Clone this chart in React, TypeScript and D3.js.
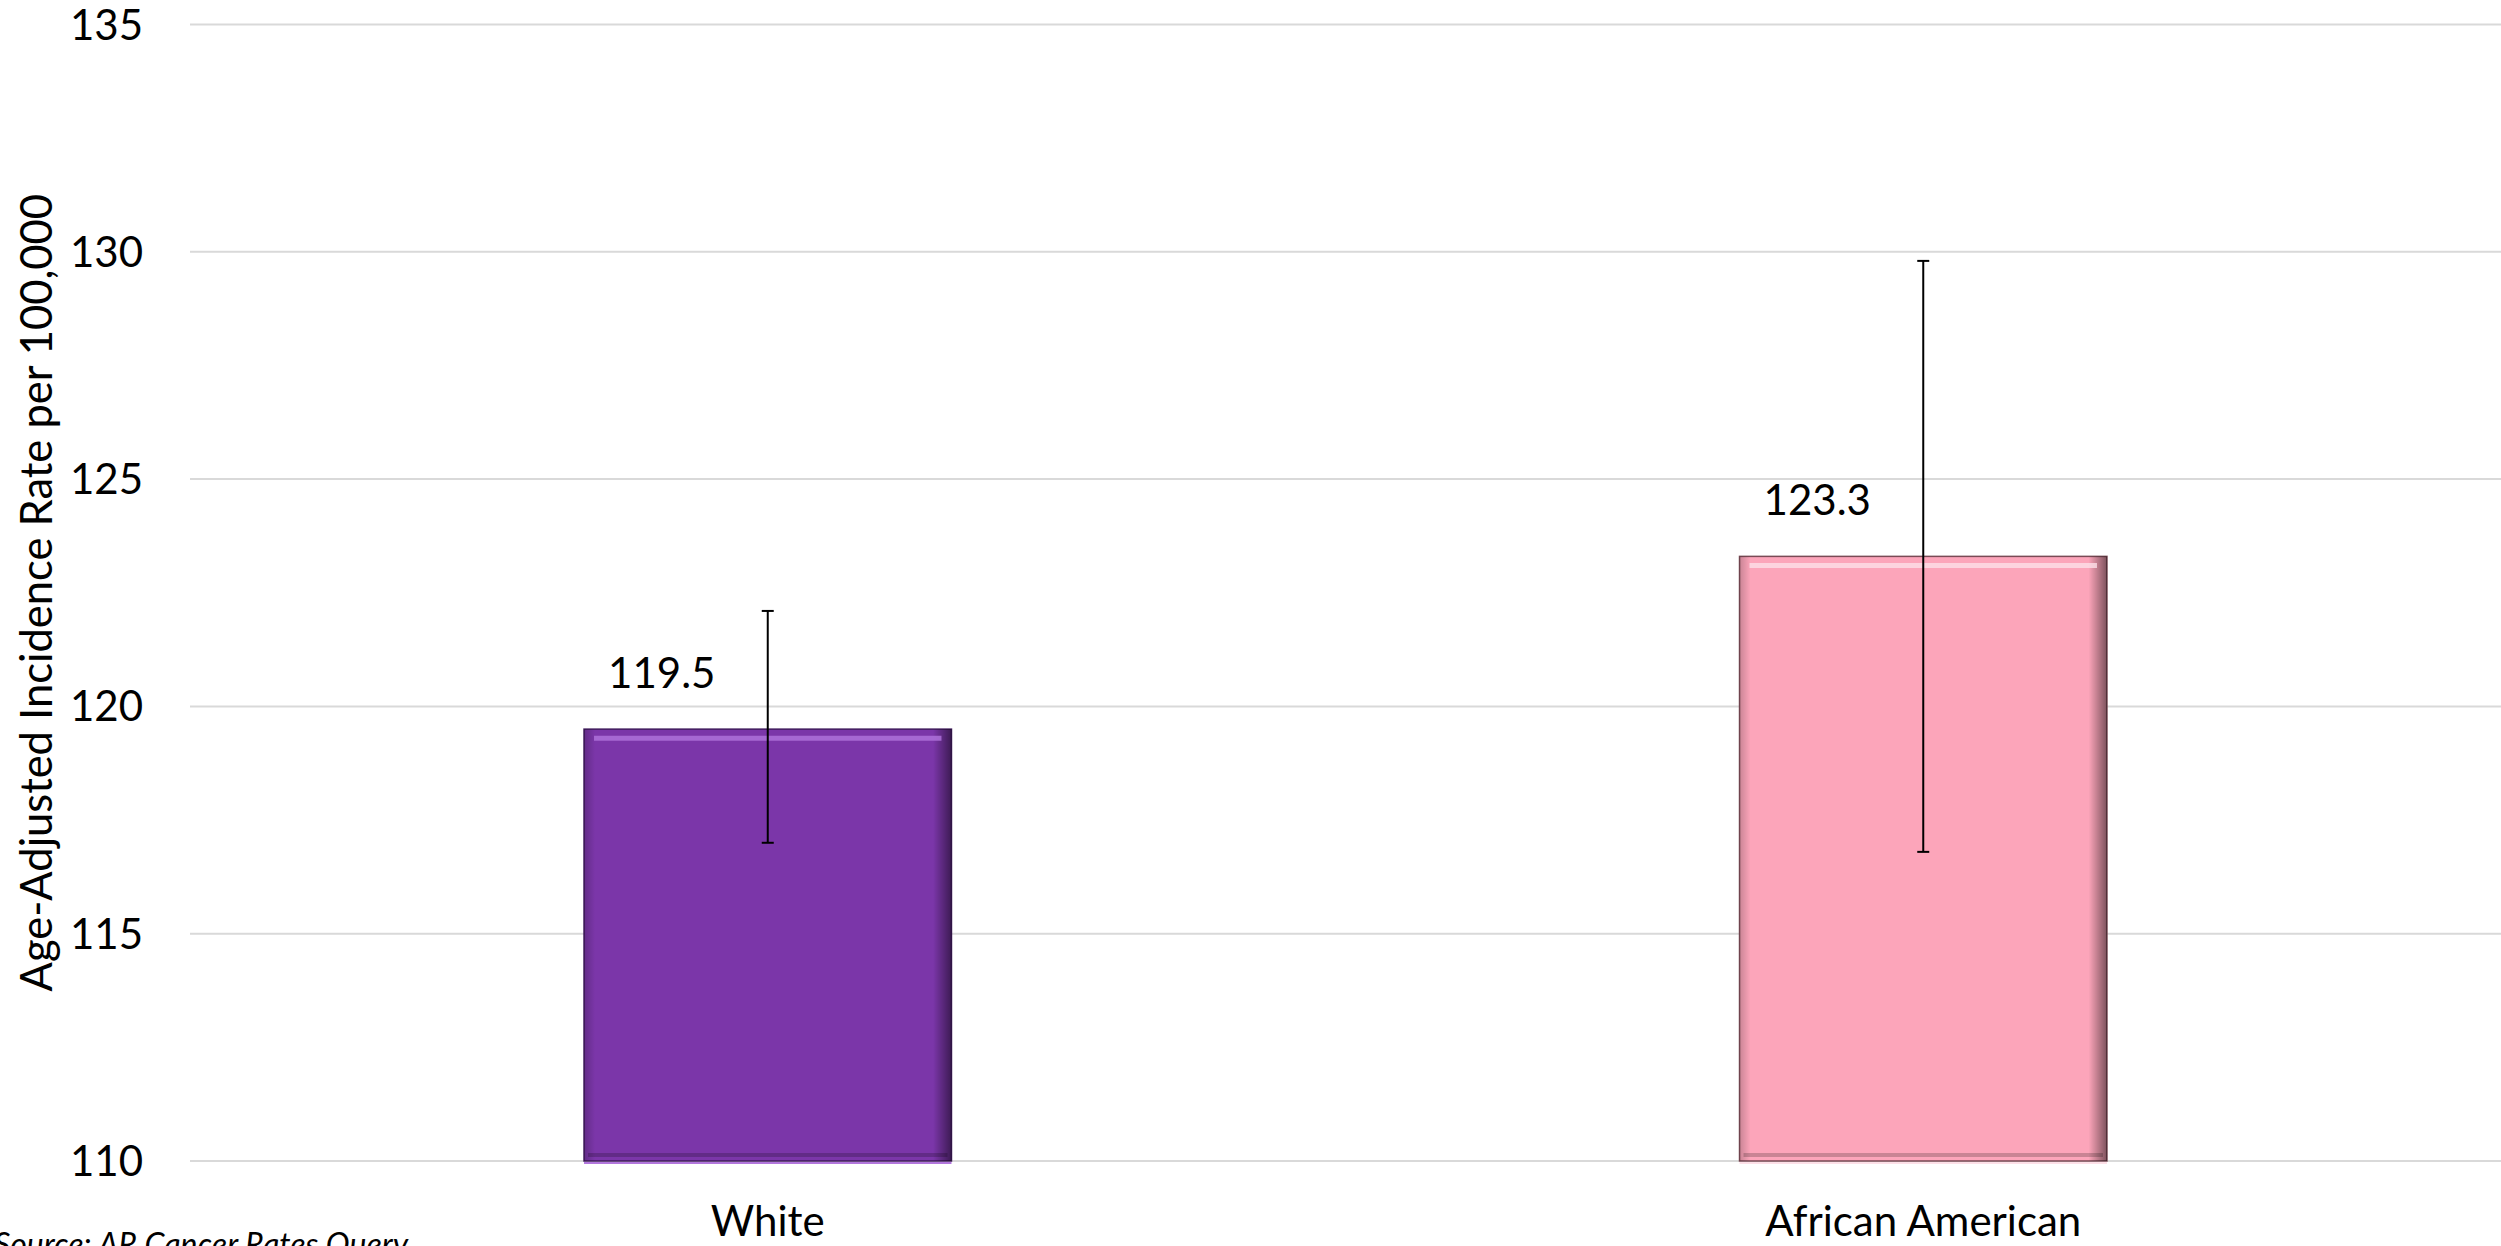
import React, { useEffect } from "react";
import * as d3 from "d3";

const categories = ["White", "African American"];
const rates = [119.5, 123.3];
const lowerCI = [117.0, 116.8];
const upperCI = [122.1, 129.8];
const barColors = ["#7B36A9", "#FCA5BA"];
const barEdge = ["#3f1a5c", "#7a4a55"];
const barHighlight = ["#b276dd", "#fde0e8"];
const yTicks = [110, 115, 120, 125, 130, 135];
const yTitle = "Age-Adjusted Incidence Rate per 100,000";
const sourceText = "Source: AR Cancer Rates Query";

const W = 2501;
const H = 1246;
const FONT = "Lato, 'Open Sans', sans-serif";

export default function App() {
  useEffect(() => {
    document.body.style.margin = "0";
  }, []);

  const left = 190;
  const right = W;
  const y = d3.scaleLinear().domain([110, 135]).range([1161, 24.5]);
  const x = d3.scaleBand<string>().domain(categories).range([left, right]).paddingInner(0.682).paddingOuter(0.341);
  const bw = x.bandwidth();

  return (
    <svg width={W} height={H} style={{ position: "absolute", left: 0, top: 0, background: "#fff" }}>
      <defs>
        {categories.map((c, i) => (
          <linearGradient key={c} id={`side${i}`} x1="0" x2="1" y1="0" y2="0">
            <stop offset="0" stopColor="#000" stopOpacity="0.2" />
            <stop offset="0.03" stopColor="#000" stopOpacity="0" />
            <stop offset="0.95" stopColor="#000" stopOpacity="0" />
            <stop offset="1" stopColor="#000" stopOpacity="0.5" />
          </linearGradient>
        ))}
      </defs>
      {yTicks.map((t) => (
        <g key={t}>
          <line x1={left} x2={right} y1={y(t)} y2={y(t)} stroke="#d9d9d9" strokeWidth={2} />
          <text x={143} y={y(t) + 15} textAnchor="end" fontFamily={FONT} fontSize={42} fill="#000">
            {t}
          </text>
        </g>
      ))}
      {categories.map((c, i) => {
        const x0 = x(c)!;
        const top = y(rates[i]);
        const bottom = y(110);
        const h = bottom - top;
        const cx = x0 + bw / 2;
        return (
          <g key={c}>
            <rect x={x0} y={top} width={bw} height={h} fill={barColors[i]} stroke={barEdge[i]} strokeWidth={1.5} />
            <rect x={x0} y={top} width={bw} height={h} fill={`url(#side${i})`} />
            <line x1={x0 + 10} x2={x0 + bw - 10} y1={top + 9} y2={top + 9} stroke={barHighlight[i]} strokeWidth={5} strokeOpacity={0.8} />
            <line x1={x0 + 4} x2={x0 + bw - 4} y1={bottom - 6} y2={bottom - 6} stroke="#000" strokeOpacity={0.2} strokeWidth={4} />
            <line x1={x0} x2={x0 + bw} y1={bottom + 2} y2={bottom + 2} stroke={barHighlight[i]} strokeWidth={2} />
            <line x1={cx} x2={cx} y1={y(upperCI[i])} y2={y(lowerCI[i])} stroke="#000" strokeWidth={2} />
            <line x1={cx - 6} x2={cx + 6} y1={y(upperCI[i])} y2={y(upperCI[i])} stroke="#000" strokeWidth={2} />
            <line x1={cx - 6} x2={cx + 6} y1={y(lowerCI[i])} y2={y(lowerCI[i])} stroke="#000" strokeWidth={2} />
            <text x={cx - 106} y={top - 41} textAnchor="middle" fontFamily={FONT} fontSize={42} fill="#000">
              {rates[i].toFixed(1)}
            </text>
            <text x={cx} y={1236} textAnchor="middle" fontFamily={FONT} fontSize={42} fill="#000">
              {c}
            </text>
          </g>
        );
      })}
      <text transform={`translate(52, ${(y(110) + y(135)) / 2}) rotate(-90)`} textAnchor="middle" fontFamily={FONT} fontSize={43.5} fill="#000">
        {yTitle}
      </text>
      <text x={-6} y={1256} fontFamily={FONT} fontStyle="italic" fontSize={32} fill="#000">
        {sourceText}
      </text>
    </svg>
  );
}
